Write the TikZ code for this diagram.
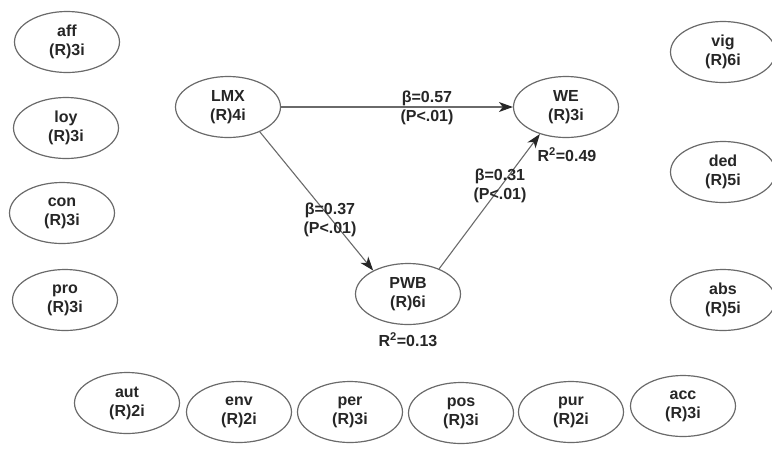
\documentclass[tikz,border=0pt]{standalone}
\usepackage{fontspec}
\setmainfont{Liberation Sans}
\usetikzlibrary{shapes.geometric,arrows.meta}

\definecolor{linegray}{HTML}{6A6A6A}
\definecolor{inkgray}{HTML}{262626}

\tikzset{
  construct/.style={ellipse,draw=linegray,line width=1.2pt,
    minimum width=105pt,minimum height=61pt,inner sep=0pt,
    align=center,text=inkgray,
    font=\bfseries\fontsize{16}{19}\selectfont},
  coef/.style={align=center,text=inkgray,inner sep=0pt,
    font=\bfseries\fontsize{16}{19}\selectfont},
  pathline/.style={draw=linegray,line width=1.1pt,
    -{Stealth[length=14pt,width=10pt,inset=4pt,color=inkgray]}}
}

\begin{document}
\begin{tikzpicture}[x=1pt,y=-1pt]
  \useasboundingbox (0,0) rectangle (772,448);

  % indicator constructs: left column, right column, bottom row
  \foreach \name/\cnt/\x/\y in {
      aff/3i/67/42, loy/3i/66/128, con/3i/62/213, pro/3i/65/300,
      vig/6i/723/52, ded/5i/723/172, abs/5i/723/300,
      aut/2i/127/403, env/2i/239/412, per/3i/350/412,
      pos/3i/461/413, pur/2i/571/412, acc/3i/683/406}
    {
      \node[construct] (\name) at (\x,\y) {\name\\(R)\cnt};
    }

  % structural model
  \node[construct] (LMX) at (228,107) {LMX\\(R)4i};
  \node[construct] (WE)  at (566,107) {WE\\(R)3i};
  \node[construct] (PWB) at (408,294) {PWB\\(R)6i};

  \draw[pathline] (LMX) -- (WE);
  \draw[pathline] (LMX.-38) -- (PWB.146);
  \draw[pathline] (PWB.39) -- (WE.226);

  % path coefficients
  \node[coef] (b1) at (427,108) {β=0.57\\(P<.01)};
  \node[coef] (b2) at (330,220) {β=0.37\\(P<.01)};
  \node[coef] (b3) at (500,186) {β=0.31\\(P<.01)};

  \node[coef] (r1) at (567,155) {R\textsuperscript{2}=0.49};
  \node[coef] (r2) at (408,340) {R\textsuperscript{2}=0.13};
\end{tikzpicture}
\end{document}
